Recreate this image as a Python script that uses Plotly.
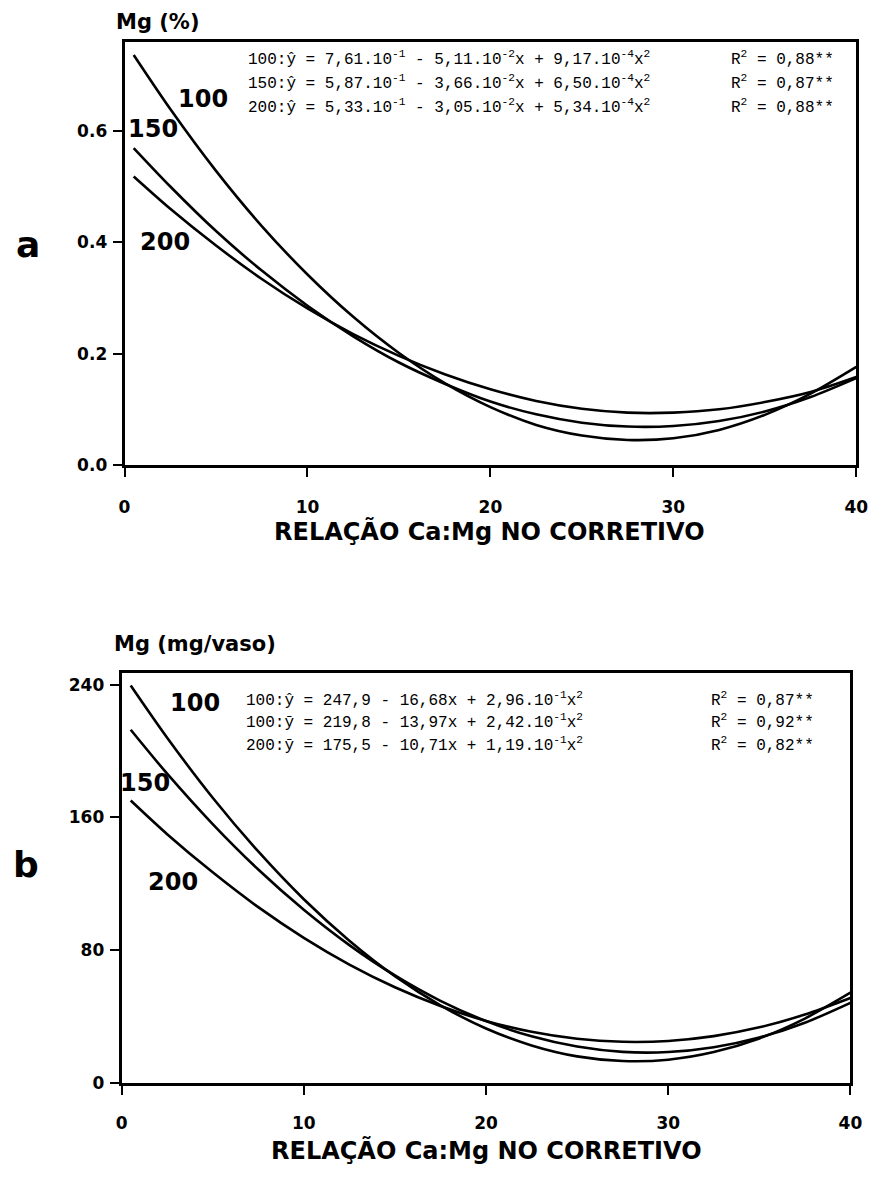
import plotly.graph_objects as go

W, H = 883, 1177

# Ca:Mg ratio in the liming material (x axis, shared by both panels)
ratio = [0.5, 2.5, 5, 7.5, 10, 12.5, 15, 17.5, 20, 22.5, 25, 27.5, 30, 32.5, 35, 37.5, 40]

# Panel a: Mg (%) for the three rates
mg_pct_100 = [0.736, 0.639, 0.528, 0.429, 0.342, 0.266, 0.201, 0.147, 0.104, 0.072,
              0.053, 0.045, 0.048, 0.063, 0.090, 0.128, 0.176]
mg_pct_150 = [0.569, 0.500, 0.420, 0.349, 0.286, 0.231, 0.184, 0.146, 0.114, 0.091,
              0.076, 0.069, 0.070, 0.079, 0.096, 0.122, 0.156]
mg_pct_200 = [0.518, 0.460, 0.394, 0.334, 0.281, 0.235, 0.196, 0.163, 0.136, 0.115,
              0.101, 0.094, 0.094, 0.100, 0.113, 0.131, 0.158]

# Panel b: Mg (mg/vaso) for the three rates
mg_pot_100 = [239.6, 208.1, 171.9, 139.5, 110.7, 85.7, 64.3, 46.7, 32.7, 22.5,
              15.9, 13.1, 13.9, 18.5, 26.7, 38.7, 54.3]
mg_pot_150 = [212.9, 186.4, 156.0, 128.6, 104.3, 83.0, 64.7, 49.4, 37.2, 28.0,
              21.8, 18.6, 18.5, 21.4, 27.3, 36.2, 48.2]
mg_pot_200 = [170.2, 149.9, 126.9, 105.9, 87.4, 71.3, 57.6, 46.3, 37.3, 30.7,
              26.5, 24.7, 25.2, 28.1, 33.4, 41.1, 51.1]

x_ticks = [0, 10, 20, 30, 40]
a_ticks = [0.0, 0.2, 0.4, 0.6]
a_ticktext = ["0.0", "0.2", "0.4", "0.6"]
b_ticks = [0, 80, 160, 240]

a_equations = [
    "100:ŷ = 7,61.10<sup>-1</sup> - 5,11.10<sup>-2</sup>x + 9,17.10<sup>-4</sup>x<sup>2</sup>",
    "150:ŷ = 5,87.10<sup>-1</sup> - 3,66.10<sup>-2</sup>x + 6,50.10<sup>-4</sup>x<sup>2</sup>",
    "200:ŷ = 5,33.10<sup>-1</sup> - 3,05.10<sup>-2</sup>x + 5,34.10<sup>-4</sup>x<sup>2</sup>",
]
a_r2 = ["R<sup>2</sup> = 0,88**", "R<sup>2</sup> = 0,87**", "R<sup>2</sup> = 0,88**"]
b_equations = [
    "100:ŷ = 247,9 - 16,68x + 2,96.10<sup>-1</sup>x<sup>2</sup>",
    "100:ȳ = 219,8 - 13,97x + 2,42.10<sup>-1</sup>x<sup>2</sup>",
    "200:ȳ = 175,5 - 10,71x + 1,19.10<sup>-1</sup>x<sup>2</sup>",
]
b_r2 = ["R<sup>2</sup> = 0,87**", "R<sup>2</sup> = 0,92**", "R<sup>2</sup> = 0,82**"]

x_title = "RELAÇÃO Ca:Mg NO CORRETIVO"

BOLD = "DejaVu Sans"
MONO = "Liberation Mono"


def px(x):
    return x / W


def py(y):
    return 1 - y / H


fig = go.Figure()

line_style = dict(color="black", width=2.6, shape="spline", smoothing=0.8)
for ys in (mg_pct_100, mg_pct_150, mg_pct_200):
    fig.add_trace(go.Scatter(x=ratio, y=ys, mode="lines", line=line_style,
                             xaxis="x", yaxis="y", showlegend=False, hoverinfo="skip"))
for ys in (mg_pot_100, mg_pot_150, mg_pot_200):
    fig.add_trace(go.Scatter(x=ratio, y=ys, mode="lines", line=line_style,
                             xaxis="x2", yaxis="y2", showlegend=False, hoverinfo="skip"))

axis_common = dict(
    showline=True, linecolor="black", linewidth=2.8, mirror=True,
    ticks="outside", ticklen=9, tickwidth=2.2, tickcolor="black",
    showgrid=False, zeroline=False,
    tickfont=dict(family=BOLD, size=17, color="black", weight="bold"),
)

fig.update_layout(
    width=W, height=H,
    margin=dict(l=0, r=0, t=0, b=0),
    paper_bgcolor="white", plot_bgcolor="white",
    xaxis=dict(axis_common, domain=[px(121), px(868)], range=[0, 40],
               tickvals=x_ticks, anchor="y", ticklabelstandoff=16),
    yaxis=dict(axis_common, domain=[py(469), py(42)], range=[0, 0.76],
               tickvals=a_ticks, ticktext=a_ticktext, anchor="x", ticklabelstandoff=2),
    xaxis2=dict(axis_common, domain=[px(118), px(862)], range=[0, 40],
                tickvals=x_ticks, anchor="y2", ticklabelstandoff=14),
    yaxis2=dict(axis_common, domain=[py(1092), py(679)], range=[0, 247],
                tickvals=b_ticks, anchor="x2", ticklabelstandoff=2),
)

ann = []


def text(x, y, s, size, family=BOLD, weight="bold", xanchor="center", xref="paper", yref="paper"):
    ann.append(dict(x=x, y=y, xref=xref, yref=yref, text=s, showarrow=False,
                    xanchor=xanchor, yanchor="middle",
                    font=dict(family=family, size=size, color="black", weight=weight)))


# panel letters and y-axis titles
text(px(22), py(247), "a", 36)
text(px(20), py(872), "b", 36)
text(px(110), py(22), "Mg (%)", 21, xanchor="left")
text(px(108), py(650), "Mg (mg/vaso)", 21, xanchor="left")

# x-axis titles
text(px(494), py(536), x_title, 24)
text(px(490), py(1160), x_title, 24)

# curve labels
text(4.3, 0.657, "100", 24, xref="x", yref="y")
text(1.55, 0.603, "150", 24, xref="x", yref="y")
text(2.2, 0.400, "200", 24, xref="x", yref="y")
text(px(193), py(709), "100", 24)
text(px(142), py(790), "150", 24)
text(px(170), py(890), "200", 24)

# regression equations
for i, (eq, r2) in enumerate(zip(a_equations, a_r2)):
    yy = 59 + 24 * i
    text(px(245), py(yy), eq, 16, family=MONO, weight="normal", xanchor="left")
    text(px(738), py(yy), r2, 16, family=MONO, weight="normal", xanchor="left")
for i, (eq, r2) in enumerate(zip(b_equations, b_r2)):
    yy = 705 + 23 * i
    text(px(243), py(yy), eq, 16, family=MONO, weight="normal", xanchor="left")
    text(px(718), py(yy), r2, 16, family=MONO, weight="normal", xanchor="left")

fig.update_layout(annotations=ann)

fig.write_html("out.html")
